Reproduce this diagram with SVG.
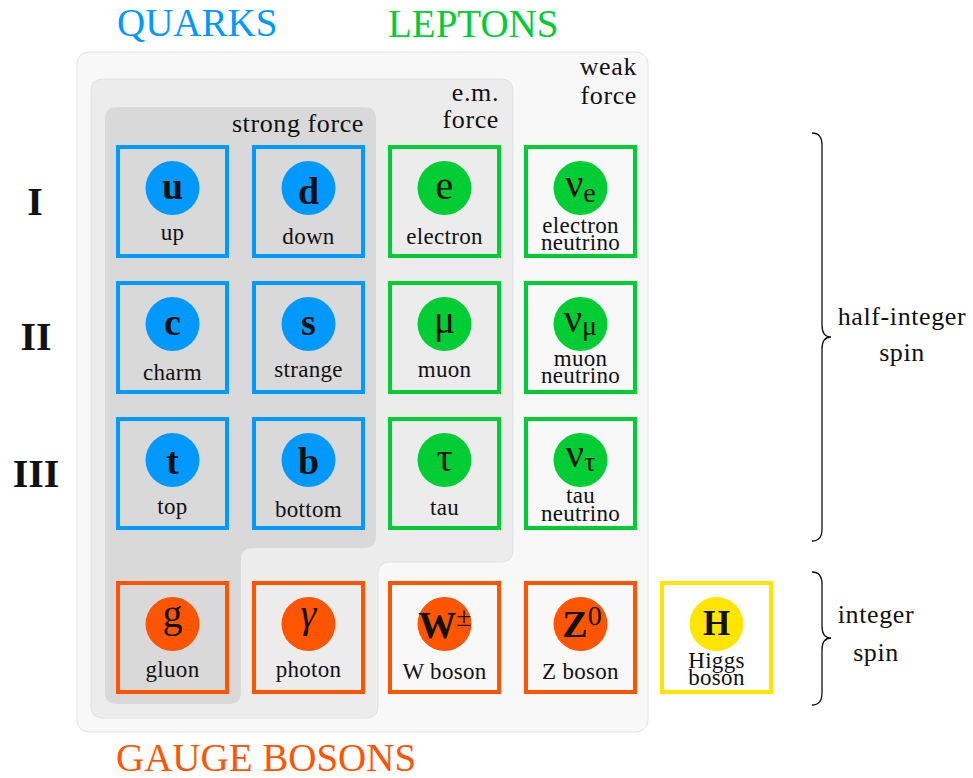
<svg xmlns="http://www.w3.org/2000/svg" width="973" height="778" viewBox="0 0 973 778">
<style>
text{font-family:"Liberation Serif","Times New Roman",serif;fill:#111}
.title{font-size:39px}
.gen{font-size:40px;font-weight:bold;text-anchor:middle}
.reg{font-size:26px;letter-spacing:0.6px;text-anchor:end}
.spin{font-size:26px;letter-spacing:0.6px;text-anchor:middle}
.lab{font-size:23px;letter-spacing:0.3px;text-anchor:middle}
.sym{font-size:38px;font-weight:bold;text-anchor:middle}
.grk{font-size:40px;text-anchor:middle}
.sub{font-size:28px;font-weight:normal}
.box{fill:none;stroke-width:4}
.q{stroke:#0099ff}.qc{fill:#0099ff}
.l{stroke:#00cc33}.lc{fill:#00cc33}
.b{stroke:#ff5500}.bc{fill:#ff5500}
.h{stroke:#ffe500}.hc{fill:#ffe500}
.brace{fill:none;stroke:#111;stroke-width:1.3}
</style>
<g id="regions">
<rect id="weak" x="77" y="52" width="571" height="680" rx="12" fill="#f8f8f8" stroke="#e4e4e4" stroke-width="1"/>
<path id="em" d="M103,79 H501 Q513,79 513,91 V550 Q513,562 501,562 H390 Q378,562 378,574 V706 Q378,718 366,718 H103 Q91,718 91,706 V91 Q91,79 103,79 Z" fill="#ececec" stroke="#e2e2e2" stroke-width="1"/>
<path id="strong" d="M117,107 H364 Q376,107 376,119 V536 Q376,548 364,548 H253 Q241,548 241,560 V692 Q241,704 229,704 H117 Q105,704 105,692 V119 Q105,107 117,107 Z" fill="#d9d9d9"/>
<text class="reg" x="364" y="132">strong force</text>
<text class="reg" x="499" y="101">e.m.</text>
<text class="reg" x="499" y="128">force</text>
<text class="reg" x="637" y="75">weak</text>
<text class="reg" x="637" y="104">force</text>
</g>
<g id="titles">
<text class="title" x="117" y="36" style="fill:#0099ff">QUARKS</text>
<text class="title" x="388" y="37" style="fill:#00cc33">LEPTONS</text>
<text class="title" x="116" y="771" style="fill:#ff5500">GAUGE BOSONS</text>
</g>
<g id="generations">
<text class="gen" x="35" y="215">I</text>
<text class="gen" x="36" y="350">II</text>
<text class="gen" x="36" y="487">III</text>
</g>
<g id="up"><rect class="box q" x="118" y="147" width="109" height="109"/><circle class="qc" cx="172.5" cy="188" r="27"/><text class="sym" x="172.5" y="199">u</text><text class="lab" x="172.5" y="240">up</text></g>
<g id="down"><rect class="box q" x="254" y="147" width="109" height="109"/><circle class="qc" cx="308.5" cy="188" r="27"/><text class="sym" x="308.5" y="204">d</text><text class="lab" x="308.5" y="244">down</text></g>
<g id="electron"><rect class="box l" x="390" y="147" width="109" height="109"/><circle class="lc" cx="444.5" cy="188" r="27"/><text class="grk" x="444.5" y="199">e</text><text class="lab" x="444.5" y="244">electron</text></g>
<g id="nu_e"><rect class="box l" x="526" y="147" width="109" height="109"/><circle class="lc" cx="580.5" cy="188" r="27"/><text class="grk" x="580.5" y="197">ν<tspan class="sub" dy="5">e</tspan></text><text class="lab" x="580.5" y="233">electron</text><text class="lab" x="580.5" y="250">neutrino</text></g>
<g id="charm"><rect class="box q" x="118" y="283" width="109" height="109"/><circle class="qc" cx="172.5" cy="324" r="27"/><text class="sym" x="172.5" y="335">c</text><text class="lab" x="172.5" y="380">charm</text></g>
<g id="strange"><rect class="box q" x="254" y="283" width="109" height="109"/><circle class="qc" cx="308.5" cy="324" r="27"/><text class="sym" x="308.5" y="335">s</text><text class="lab" x="308.5" y="377">strange</text></g>
<g id="muon"><rect class="box l" x="390" y="283" width="109" height="109"/><circle class="lc" cx="444.5" cy="324" r="27"/><text class="grk" x="444.5" y="333">μ</text><text class="lab" x="444.5" y="377">muon</text></g>
<g id="nu_mu"><rect class="box l" x="526" y="283" width="109" height="109"/><circle class="lc" cx="580.5" cy="324" r="27"/><text class="grk" x="580.5" y="332">ν<tspan class="sub" dy="3">μ</tspan></text><text class="lab" x="580.5" y="366">muon</text><text class="lab" x="580.5" y="383">neutrino</text></g>
<g id="top"><rect class="box q" x="118" y="419" width="109" height="109"/><circle class="qc" cx="172.5" cy="460" r="27"/><text class="sym" x="172.5" y="474">t</text><text class="lab" x="172.5" y="514">top</text></g>
<g id="bottom"><rect class="box q" x="254" y="419" width="109" height="109"/><circle class="qc" cx="308.5" cy="460" r="27"/><text class="sym" x="308.5" y="474">b</text><text class="lab" x="308.5" y="517">bottom</text></g>
<g id="tau"><rect class="box l" x="390" y="419" width="109" height="109"/><circle class="lc" cx="444.5" cy="460" r="27"/><text class="grk" x="444.5" y="471">τ</text><text class="lab" x="444.5" y="515">tau</text></g>
<g id="nu_tau"><rect class="box l" x="526" y="419" width="109" height="109"/><circle class="lc" cx="580.5" cy="460" r="27"/><text class="grk" x="580.5" y="467">ν<tspan class="sub" dy="4">τ</tspan></text><text class="lab" x="580.5" y="503">tau</text><text class="lab" x="580.5" y="521">neutrino</text></g>
<g id="gluon"><rect class="box b" x="118" y="583" width="109" height="109"/><circle class="bc" cx="172.5" cy="624" r="27"/><text class="grk" x="172.5" y="627">g</text><text class="lab" x="172.5" y="677">gluon</text></g>
<g id="photon"><rect class="box b" x="254" y="583" width="109" height="109"/><circle class="bc" cx="308.5" cy="624" r="27"/><text class="grk" x="308.5" y="627" style="font-style:italic">γ</text><text class="lab" x="308.5" y="677">photon</text></g>
<g id="w_boson"><rect class="box b" x="390" y="583" width="109" height="109"/><circle class="bc" cx="444.5" cy="624" r="27"/><text class="sym" x="445" y="638">W<tspan class="sub" dy="-12" font-size="22">±</tspan></text><text class="lab" x="444.5" y="679">W  boson</text></g>
<g id="z_boson"><rect class="box b" x="526" y="583" width="109" height="109"/><circle class="bc" cx="580.5" cy="624" r="27"/><text class="sym" x="582" y="637">Z<tspan class="sub" dy="-12" font-size="22">0</tspan></text><text class="lab" x="580.5" y="679">Z boson</text></g>
<g id="higgs"><rect class="box h" x="662" y="583" width="109" height="109" style="fill:#fff"/><circle class="hc" cx="716.5" cy="624" r="27"/><text class="sym" x="716.5" y="635" style="font-size:35px">H</text><text class="lab" x="716.5" y="668">Higgs</text><text class="lab" x="716.5" y="685">boson</text></g>
<g id="connectors">
<path class="brace" d="M812,133 Q822,133 822,145 V325 Q822,337 831,337 Q822,337 822,349 V529 Q822,541 812,541"/>
<path class="brace" d="M812,572 Q822,572 822,584 V626 Q822,638 831,638 Q822,638 822,650 V693 Q822,705 812,705"/>
</g>
<g id="spin-labels">
<text class="spin" x="902" y="325">half-integer</text>
<text class="spin" x="902" y="361">spin</text>
<text class="spin" x="876" y="623">integer</text>
<text class="spin" x="876" y="661">spin</text>
</g>
</svg>
